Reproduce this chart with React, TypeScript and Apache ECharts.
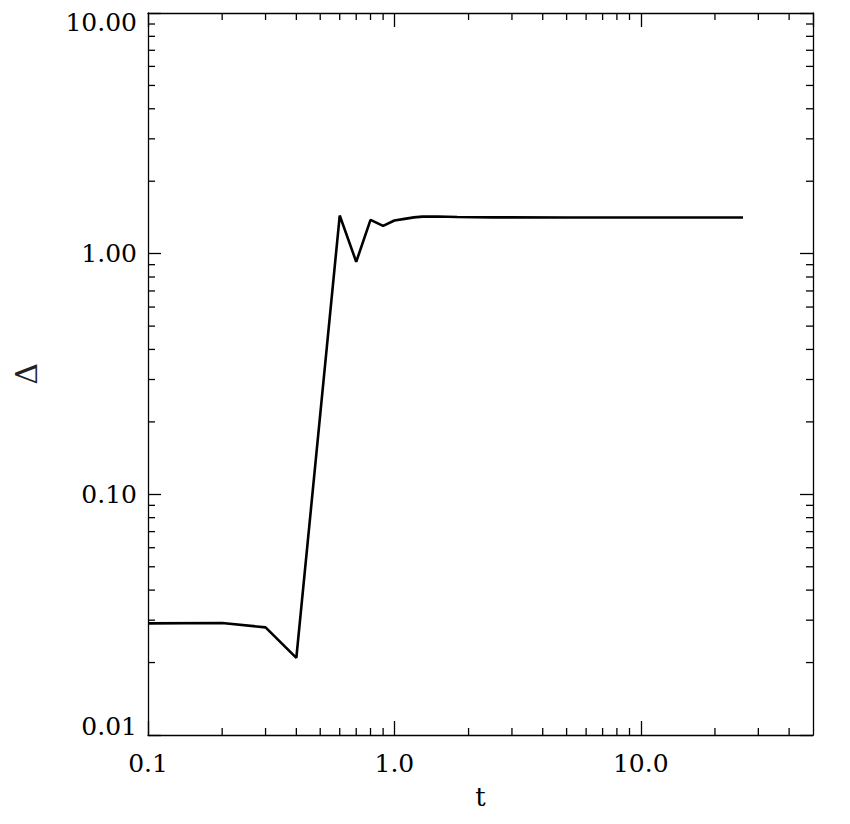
import React, { useEffect, useRef } from "react";
import * as echarts from "echarts";

// Data (t vs Δ, log-log)
const tValues = [0.1, 0.2, 0.3, 0.4, 0.6, 0.7, 0.8, 0.9, 1.0, 1.1, 1.2, 1.3, 1.5, 1.8, 2.5, 5, 10, 26];
const deltaValues = [0.0291, 0.0292, 0.028, 0.0209, 1.44, 0.925, 1.382, 1.305, 1.373, 1.395, 1.415, 1.425, 1.427, 1.42, 1.415, 1.414, 1.414, 1.414];

const xMin = 0.1;
const xMax = 50;
const yMin = 0.01;
const yMax = 10;

const xTickValues = [0.1, 1, 10];
const xTickLabels = ["0.1", "1.0", "10.0"];
const yTickValues = [0.01, 0.1, 1, 10];
const yTickLabels = ["0.01", "0.10", "1.00", "10.00"];

const xMinorTicks = [0.2, 0.3, 0.4, 0.5, 0.6, 0.7, 0.8, 0.9, 2, 3, 4, 5, 6, 7, 8, 9, 20, 30, 40];
const yMinorTicks = [0.02, 0.03, 0.04, 0.05, 0.06, 0.07, 0.08, 0.09, 0.2, 0.3, 0.4, 0.5, 0.6, 0.7, 0.8, 0.9, 2, 3, 4, 5, 6, 7, 8, 9];

const FONT = "DejaVu Serif";
const LW = 1.3;

function findLabel(values: number[], labels: string[], v: number): string {
  for (let i = 0; i < values.length; i++) {
    if (Math.abs(Math.log10(v) - Math.log10(values[i])) < 1e-6) return labels[i];
  }
  return "";
}

function minorSeries(data: number[][], dx: number, dy: number) {
  return {
    type: "custom",
    xAxisIndex: 0,
    yAxisIndex: 0,
    silent: true,
    clip: false,
    z: 5,
    data,
    renderItem: (_params: any, api: any) => {
      const p = api.coord([api.value(0), api.value(1)]);
      return {
        type: "line",
        shape: { x1: p[0], y1: p[1], x2: p[0] + dx, y2: p[1] + dy },
        style: { stroke: "#000", lineWidth: LW },
      };
    },
  };
}

export default function App() {
  const ref = useRef<HTMLDivElement>(null);
  useEffect(() => {
    if (!ref.current) return;
    const chart = echarts.init(ref.current, null, { renderer: "svg" });
    const axisLine = { show: true, lineStyle: { color: "#000", width: LW } };
    const labelRich = {
      n: { fontFamily: FONT, fontSize: 25, color: "#000" },
      top: { fontFamily: FONT, fontSize: 25, color: "#000", padding: [18, 0, 0, 0] },
      bot: { fontFamily: FONT, fontSize: 25, color: "#000", padding: [0, 0, 18, 0] },
    };
    chart.setOption({
      animation: false,
      backgroundColor: "#fff",
      grid: { left: 148, right: 37, top: 13, bottom: 89, containLabel: false },
      xAxis: [
        {
          type: "log",
          logBase: 10,
          min: xMin,
          max: xMax,
          position: "bottom",
          name: "t",
          nameLocation: "middle",
          nameGap: 49,
          nameTextStyle: { fontFamily: FONT, fontSize: 26, color: "#000" },
          axisLine,
          axisTick: { show: true, inside: true, length: 14, lineStyle: { color: "#000", width: LW } },
          axisLabel: {
            show: true,
            margin: 16,
            showMaxLabel: false,
            fontFamily: FONT,
            fontSize: 25,
            color: "#000",
            formatter: (v: number) => findLabel(xTickValues, xTickLabels, v),
          },
          splitLine: { show: false },
        },
        {
          type: "log",
          logBase: 10,
          min: xMin,
          max: xMax,
          position: "top",
          axisLine,
          axisTick: { show: true, inside: true, length: 14, lineStyle: { color: "#000", width: LW } },
          axisLabel: { show: false },
          splitLine: { show: false },
        },
      ],
      yAxis: [
        {
          type: "log",
          logBase: 10,
          min: yMin,
          max: yMax,
          position: "left",
          name: "Δ",
          nameLocation: "middle",
          nameRotate: 90,
          nameGap: 107,
          nameTextStyle: { fontFamily: FONT, fontSize: 30, fontWeight: 300, color: "#222" },
          axisLine,
          axisTick: { show: true, inside: true, length: 13, lineStyle: { color: "#000", width: LW } },
          axisLabel: {
            show: true,
            margin: 11,
            rich: labelRich,
            formatter: (v: number) => {
              const s = findLabel(yTickValues, yTickLabels, v);
              if (!s) return "";
              if (Math.abs(Math.log10(v) - Math.log10(yMax)) < 1e-6) return "{top|" + s + "}";
              if (Math.abs(Math.log10(v) - Math.log10(yMin)) < 1e-6) return "{bot|" + s + "}";
              return "{n|" + s + "}";
            },
          },
          splitLine: { show: false },
        },
        {
          type: "log",
          logBase: 10,
          min: yMin,
          max: yMax,
          position: "right",
          axisLine,
          axisTick: { show: true, inside: true, length: 13, lineStyle: { color: "#000", width: LW } },
          axisLabel: { show: false },
          splitLine: { show: false },
        },
      ],
      series: [
        {
          type: "line",
          xAxisIndex: 0,
          yAxisIndex: 0,
          showSymbol: false,
          silent: true,
          z: 10,
          lineStyle: { color: "#000", width: 2.6 },
          data: tValues.map((t, i) => [t, deltaValues[i]]),
        },
        minorSeries(xMinorTicks.map((v) => [v, yMin]), 0, -7),
        minorSeries(xMinorTicks.map((v) => [v, yMax]), 0, 7),
        minorSeries(yMinorTicks.map((v) => [xMin, v]), 7, 0),
        minorSeries(yMinorTicks.map((v) => [xMax, v]), -7, 0),
      ],
    });
    return () => chart.dispose();
  }, []);
  return (
    <div
      ref={ref}
      style={{ position: "fixed", left: 0, top: 0, width: 850, height: 824, background: "#fff" }}
    />
  );
}
